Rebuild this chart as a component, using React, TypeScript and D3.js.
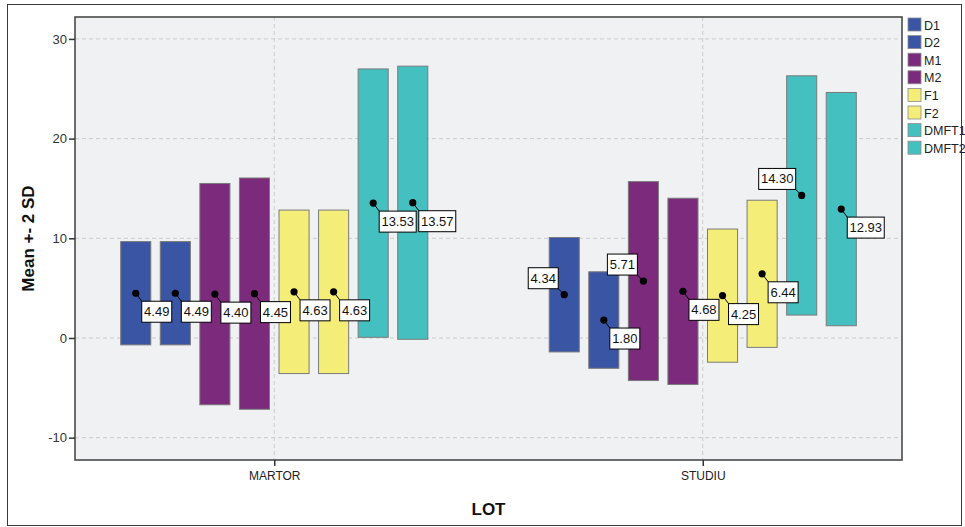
import React, { useEffect, useRef } from "react";
import * as d3 from "d3";

const groups = ["MARTOR", "STUDIU"];
const series = ["D1", "D2", "M1", "M2", "F1", "F2", "DMFT1", "DMFT2"];
const seriesColors = ["#3b55a5", "#3b55a5", "#7c2a7b", "#7c2a7b", "#f4ee78", "#f4ee78", "#45c0c0", "#45c0c0"];

// mean and SD per series, per group
const meansMartor = [4.49, 4.49, 4.4, 4.45, 4.63, 4.63, 13.53, 13.57];
const sdMartor = [2.59, 2.59, 5.55, 5.8, 4.1, 4.1, 6.73, 6.85];
const meansStudiu = [4.34, 1.8, 5.71, 4.68, 4.25, 6.44, 14.3, 12.93];
const sdStudiu = [2.87, 2.42, 4.99, 4.67, 3.34, 3.69, 6.0, 5.85];

// where the value label sits relative to its dot
const labelSideMartor = ["se", "se", "se", "se", "se", "se", "se", "se"];
const labelSideStudiu = ["nw", "se", "nw", "se", "se", "se", "nw", "se"];

const yTicks = [-10, 0, 10, 20, 30];

const W = 965;
const H = 527;

const App = () => {
  const svgRef = useRef(null);

  useEffect(() => {
    const svg = d3.select(svgRef.current);
    svg.selectAll("*").remove();

    const plot = { left: 75, right: 902, top: 17, bottom: 460 };
    const font = "Arial, 'Liberation Sans', sans-serif";

    const rows = [];
    groups.forEach((g, gi) => {
      const means = gi === 0 ? meansMartor : meansStudiu;
      const sds = gi === 0 ? sdMartor : sdStudiu;
      const sides = gi === 0 ? labelSideMartor : labelSideStudiu;
      series.forEach((s, si) => {
        rows.push({ group: g, series: s, mean: means[si], sd: sds[si], side: sides[si], color: seriesColors[si] });
      });
    });

    const y = d3.scaleLinear().domain([-12.24, 32.2]).range([plot.bottom, plot.top]);
    const x0 = d3.scalePoint().domain(groups).range([plot.left, plot.right]).padding(0.465);
    const x1 = d3
      .scaleBand()
      .domain(series)
      .range([-158.3, 158.3])
      .paddingInner(0.24)
      .paddingOuter(0.12);

    // outer frame
    svg
      .append("rect")
      .attr("x", 7.5)
      .attr("y", 4.5)
      .attr("width", 954)
      .attr("height", 521)
      .attr("fill", "#fff")
      .attr("stroke", "#3a3a3a")
      .attr("stroke-width", 1);

    // plot background
    svg
      .append("rect")
      .attr("x", plot.left)
      .attr("y", plot.top)
      .attr("width", plot.right - plot.left)
      .attr("height", plot.bottom - plot.top)
      .attr("fill", "#f0f1f3");

    // grid
    const grid = svg.append("g").attr("stroke", "#cbcbcb").attr("stroke-dasharray", "4,3");
    grid
      .selectAll(".hg")
      .data(yTicks)
      .enter()
      .append("line")
      .attr("x1", plot.left)
      .attr("x2", plot.right)
      .attr("y1", (d) => y(d))
      .attr("y2", (d) => y(d));
    grid
      .selectAll(".vg")
      .data(groups)
      .enter()
      .append("line")
      .attr("x1", (d) => x0(d))
      .attr("x2", (d) => x0(d))
      .attr("y1", plot.top)
      .attr("y2", plot.bottom);

    // bars (mean +- 2 SD)
    svg
      .append("g")
      .selectAll("rect")
      .data(rows)
      .enter()
      .append("rect")
      .attr("x", (d) => x0(d.group) + x1(d.series))
      .attr("width", x1.bandwidth())
      .attr("y", (d) => y(d.mean + 2 * d.sd))
      .attr("height", (d) => y(d.mean - 2 * d.sd) - y(d.mean + 2 * d.sd))
      .attr("fill", (d) => d.color)
      .attr("stroke", "#7a7a7a")
      .attr("stroke-width", 1);

    // mean dots + labels
    const lab = svg.append("g");
    rows.forEach((d) => {
      const cx = x0(d.group) + x1(d.series) + x1.bandwidth() / 2;
      const cy = y(d.mean);
      const txt = d.mean.toFixed(2);
      const bw = txt.length > 4 ? 37 : 30;
      const bh = 21;
      let bx, by, lx, ly;
      if (d.side === "nw") {
        bx = cx - 6 - bw;
        by = cy - 6 - bh;
        lx = bx + bw;
        ly = by + bh;
      } else {
        bx = cx + 6;
        by = cy + 8;
        lx = bx;
        ly = by;
      }
      lab
        .append("line")
        .attr("x1", cx)
        .attr("y1", cy)
        .attr("x2", lx)
        .attr("y2", ly)
        .attr("stroke", "#000")
        .attr("stroke-width", 1);
      lab.append("circle").attr("cx", cx).attr("cy", cy).attr("r", 3.6).attr("fill", "#000");
      lab
        .append("rect")
        .attr("x", bx)
        .attr("y", by)
        .attr("width", bw)
        .attr("height", bh)
        .attr("fill", "#fff")
        .attr("stroke", "#000")
        .attr("stroke-width", 1);
      lab
        .append("text")
        .attr("x", bx + bw / 2)
        .attr("y", by + bh / 2 + 4.5)
        .attr("text-anchor", "middle")
        .attr("font-family", font)
        .attr("font-size", 13)
        .attr("fill", "#111")
        .text(txt);
    });

    // plot frame
    svg
      .append("rect")
      .attr("x", plot.left)
      .attr("y", plot.top)
      .attr("width", plot.right - plot.left)
      .attr("height", plot.bottom - plot.top)
      .attr("fill", "none")
      .attr("stroke", "#4a4a4a")
      .attr("stroke-width", 1.6);

    // y axis
    const yAxis = svg
      .append("g")
      .attr("transform", `translate(${plot.left},0)`)
      .call(
        d3
          .axisLeft(y)
          .tickValues(yTicks)
          .tickFormat((d) => String(d))
          .tickSize(6)
          .tickPadding(2)
      );
    yAxis.select(".domain").remove();
    yAxis.selectAll("line").attr("stroke", "#333").attr("stroke-width", 1.5);
    yAxis.selectAll("text").attr("font-family", font).attr("font-size", 13).attr("fill", "#333");

    // x axis
    const xAxis = svg
      .append("g")
      .attr("transform", `translate(0,${plot.bottom})`)
      .call(d3.axisBottom(x0).tickSize(6).tickPadding(5));
    xAxis.select(".domain").remove();
    xAxis.selectAll("line").attr("stroke", "#333").attr("stroke-width", 1.5);
    xAxis.selectAll("text").attr("font-family", font).attr("font-size", 12).attr("fill", "#222");

    // axis titles
    svg
      .append("text")
      .attr("transform", `translate(34,${(plot.top + plot.bottom) / 2}) rotate(-90)`)
      .attr("text-anchor", "middle")
      .attr("font-family", font)
      .attr("font-size", 17)
      .attr("font-weight", "bold")
      .attr("fill", "#111")
      .text("Mean +- 2 SD");
    svg
      .append("text")
      .attr("x", (plot.left + plot.right) / 2)
      .attr("y", 515)
      .attr("text-anchor", "middle")
      .attr("font-family", font)
      .attr("font-size", 17)
      .attr("font-weight", "bold")
      .attr("fill", "#111")
      .text("LOT");

    // legend
    const legend = svg
      .append("g")
      .selectAll("g")
      .data(series)
      .enter()
      .append("g")
      .attr("transform", (d, i) => `translate(908,${18 + i * 17.6})`);
    legend
      .append("rect")
      .attr("width", 13)
      .attr("height", 13)
      .attr("fill", (d, i) => seriesColors[i])
      .attr("stroke", "#8a8a8a")
      .attr("stroke-width", 0.8);
    legend
      .append("text")
      .attr("x", 16)
      .attr("y", 11.5)
      .attr("font-family", font)
      .attr("font-size", 12.5)
      .attr("fill", "#222")
      .text((d) => d);
  }, []);

  return (
    <svg
      ref={svgRef}
      width={W}
      height={H}
      style={{ position: "absolute", left: 0, top: 0, background: "#fff" }}
    ></svg>
  );
};

export default App;
